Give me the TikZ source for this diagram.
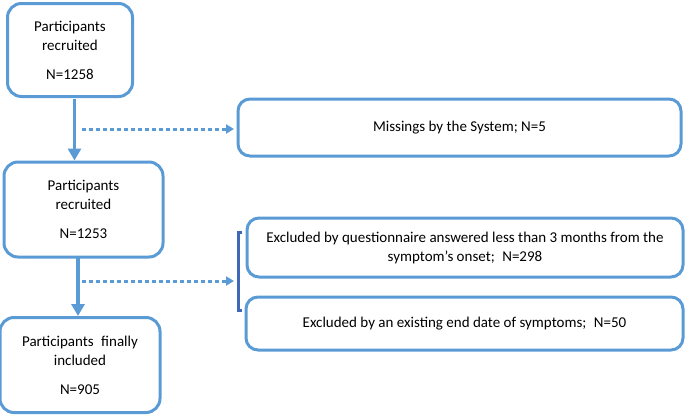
\documentclass[tikz,border=0pt]{standalone}
\usepackage{fontspec}
\setmainfont{Carlito}
\usetikzlibrary{arrows.meta}
\definecolor{boxblue}{HTML}{5B9BD5}
\definecolor{brackblue}{HTML}{4068B8}
\tikzset{
  flowbox/.style={draw=boxblue, line width=3pt, rounded corners=14pt, align=center,
    inner sep=0pt, font=\fontsize{15}{19}\selectfont},
  mainarrow/.style={draw=boxblue, line width=3.5pt, -{Triangle[width=13pt,length=12pt]}},
  dotarrow/.style={draw=boxblue, line width=3pt, dash pattern=on 4pt off 3pt,
    -{Triangle[width=9pt,length=8pt]}},
  brack/.style={draw=brackblue, line width=3pt}
}
\begin{document}
\begin{tikzpicture}[x=1pt,y=-1pt]
\useasboundingbox (0,0) rectangle (685,415);
\node[flowbox, minimum width=125pt, minimum height=93pt] (b1) at (70,50)
  {Participants\\recruited\\[10pt]N=1258};
\node[flowbox, minimum width=443pt, minimum height=57pt, rounded corners=12pt] (b2) at (459.5,127.5)
  {Missings by the System; N=5};
\node[flowbox, minimum width=159pt, minimum height=95pt] (b3) at (83.5,209.5)
  {Participants\\recruited\\[10pt]N=1253};
\node[flowbox, minimum width=436pt, minimum height=59pt, rounded corners=12pt] (b4) at (465,247.5)
  {Excluded by questionnaire answered less than 3 months from the\\symptom’s onset;\enspace N=298};
\node[flowbox, minimum width=437pt, minimum height=53pt, rounded corners=12pt] (b5) at (464.5,323.5)
  {Excluded by an existing end date of symptoms;\enspace N=50};
\node[flowbox, minimum width=160pt, minimum height=95pt] (b6) at (80,365)
  {Participants\enspace finally\\included\\[10pt]N=905};
% main arrows
\coordinate (a1s) at (74.5,99);
\coordinate (a2s) at (78,258);
\draw[mainarrow] (a1s) -- (a1s |- b3.north);
\draw[mainarrow] (a2s) -- (a2s |- b6.north);
% dotted arrows
\coordinate (d1s) at (82,129);
\coordinate (d1e) at (234,129);
\coordinate (d2s) at (82,281);
\coordinate (d2e) at (234,281);
\draw[dotarrow] (d1s) -- (d1e);
\draw[dotarrow] (d2s) -- (d2e);
% bracket
\coordinate (bt) at (238,232);
\coordinate (bb) at (238,310);
\draw[brack] ([xshift=4pt]bt) -- (bt) -- (bb) -- ([xshift=4pt]bb);
\end{tikzpicture}
\end{document}
